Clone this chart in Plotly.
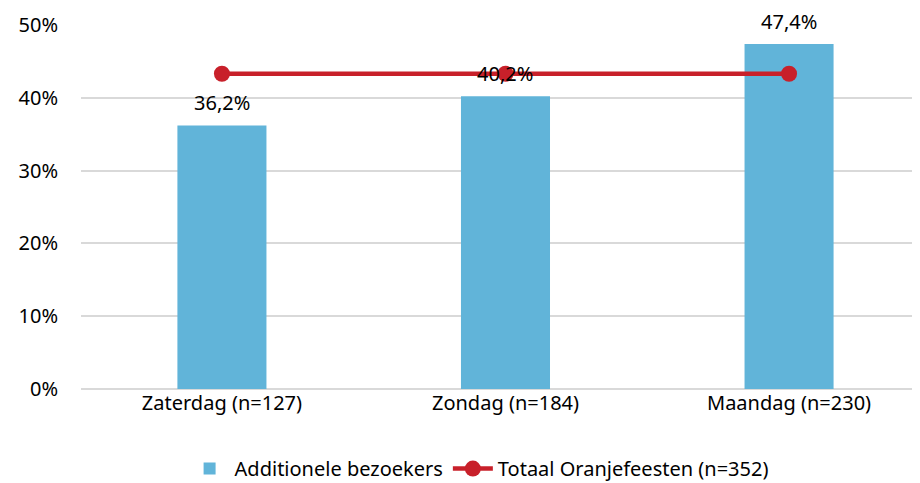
import plotly.graph_objs as go

categories = ["Zaterdag (n=127)", "Zondag (n=184)", "Maandag (n=230)"]
additioneel = [0.362, 0.402, 0.474]
totaal = [0.433, 0.433, 0.433]

bar_color = "#61b4d9"
line_color = "#c8202a"
font_family = "Noto Sans, Open Sans, sans-serif"
font_size = 20

fig = go.Figure()

fig.add_trace(
    go.Bar(
        x=categories,
        y=additioneel,
        name="Additionele bezoekers",
        marker=dict(color=bar_color, line=dict(width=0)),
        width=0.314,
    )
)

fig.add_trace(
    go.Scatter(
        x=categories,
        y=totaal,
        name="Totaal Oranjefeesten (n=352)",
        mode="lines+markers",
        line=dict(color=line_color, width=4.5),
        marker=dict(color=line_color, size=16),
    )
)

# data labels above the bars
for cat, val in zip(categories, additioneel):
    fig.add_annotation(
        x=cat,
        y=val,
        text=f"{val * 100:.1f}%".replace(".", ","),
        showarrow=False,
        yanchor="bottom",
        yshift=8,
        borderpad=0,
        font=dict(size=font_size, color="#000000", family=font_family),
    )

fig.update_xaxes(
    range=[-0.497, 2.49],
    showgrid=False,
    showline=False,
    ticks="",
    automargin=False,
    tickfont=dict(size=font_size, color="#000000", family=font_family),
)

fig.update_yaxes(
    range=[0, 0.5],
    dtick=0.1,
    tickformat=".0%",
    showgrid=True,
    gridcolor="#d9d9d9",
    gridwidth=1.5,
    zeroline=True,
    zerolinecolor="#d9d9d9",
    zerolinewidth=1.5,
    ticklabelstandoff=22,
    automargin=False,
    tickfont=dict(size=font_size, color="#000000", family=font_family),
)

# the page body adds 8px around the figure, so margins are shifted by that
fig.update_layout(
    width=920,
    height=483,
    margin=dict(l=73, r=0, t=17, b=102, autoexpand=False),
    plot_bgcolor="white",
    paper_bgcolor="white",
    font=dict(family=font_family, size=font_size, color="#000000"),
    separators=",.",
    showlegend=True,
    legend=dict(
        orientation="h",
        x=0.47,
        xanchor="center",
        y=-0.165,
        yanchor="top",
        font=dict(size=font_size),
        traceorder="normal",
        itemwidth=40,
    ),
)

fig.write_html("out.html")
